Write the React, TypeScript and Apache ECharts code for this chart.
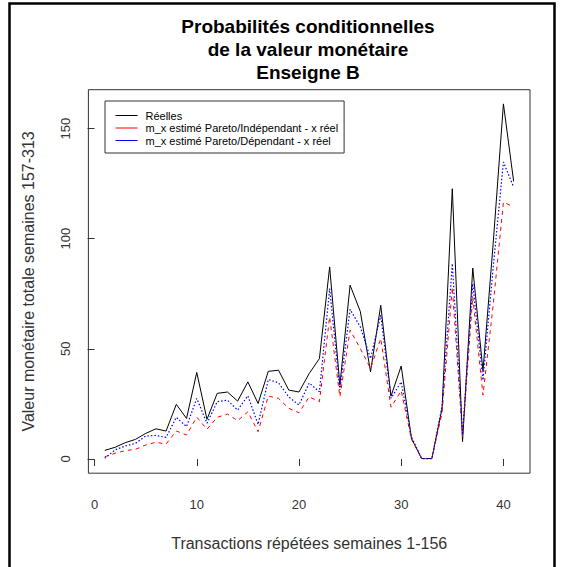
import React, { useEffect, useRef } from "react";
import * as echarts from "echarts";

const transactions = [
  1, 2, 3, 4, 5, 6, 7, 8, 9, 10, 11, 12, 13, 14, 15, 16, 17, 18, 19, 20, 21,
  22, 23, 24, 25, 26, 27, 28, 29, 30, 31, 32, 33, 34, 35, 36, 37, 38, 39, 40, 41,
];

const reelles = [
  3.9, 5.3, 7.4, 8.9, 11.6, 13.7, 12.7, 24.8, 18.4, 39.3, 18.0, 29.8, 30.4, 26.3,
  35.0, 25.2, 39.8, 40.3, 31.3, 30.4, 38.8, 45.6, 87.2, 33.5, 78.9, 67.0, 39.6,
  69.8, 28.5, 42.2, 9.4, 0.2, 0.2, 23.0, 122.7, 7.9, 86.7, 40.0, 98.0, 161.2, 126.0,
];

const paretoIndependant = [
  1.0, 2.6, 3.8, 4.4, 6.3, 7.6, 6.8, 12.7, 10.9, 19.0, 13.5, 18.9, 20.4, 17.4,
  21.4, 12.4, 28.6, 27.5, 23.0, 21.0, 28.2, 26.0, 64.5, 28.2, 58.5, 50.2, 41.1,
  54.7, 23.5, 31.0, 9.0, 0.2, 0.2, 21.0, 78.0, 10.0, 73.6, 29.0, 70.0, 116.6, 114.4,
];

const paretoDependant = [
  0.3, 4.1, 5.9, 7.1, 10.4, 10.7, 9.8, 18.9, 14.7, 27.5, 16.2, 26.0, 26.7, 22.2,
  28.7, 15.7, 36.1, 34.6, 28.2, 24.5, 34.5, 30.5, 77.4, 31.3, 67.9, 60.0, 45.6,
  65.3, 27.6, 35.0, 10.0, 0.2, 0.2, 24.0, 88.7, 11.0, 79.6, 35.8, 87.0, 134.8, 123.4,
];

const xTicks = [0, 10, 20, 30, 40];
const yTicks = [0, 50, 100, 150];

const titleLines = [
  "Probabilités conditionnelles",
  "de la valeur monétaire",
  "Enseigne B",
];

const seriesNames = [
  "Réelles",
  "m_x estimé Pareto/Indépendant - x réel",
  "m_x estimé Pareto/Dépendant - x réel",
];

const xTitle = "Transactions répétées semaines 1-156";
const yTitle = "Valeur monétaire totale semaines 157-313";

const FONT = "'Liberation Sans', Arial, Helvetica, sans-serif";

export default function App() {
  const ref = useRef<HTMLDivElement>(null);

  useEffect(() => {
    if (!ref.current) return;
    const chart = echarts.init(ref.current, null, { renderer: "svg" });

    const pairs = (vals: number[]) => transactions.map((x, i) => [x, vals[i]]);

    const allVals = [...reelles, ...paretoIndependant, ...paretoDependant];
    const yMinData = Math.min(...allVals, 0);
    const yMaxData = Math.max(...allVals);
    const yPad = (yMaxData - 0) * 0.04;
    const xMinData = transactions[0];
    const xMaxData = transactions[transactions.length - 1];
    const xPad = (xMaxData - xMinData) * 0.04;

    const axisColor = "#333";

    chart.setOption({
      animation: false,
      backgroundColor: "#ffffff",
      textStyle: { fontFamily: FONT },
      grid: {
        left: 88.4,
        right: 32,
        top: 89.7,
        bottom: 93.8,
        show: true,
        borderColor: axisColor,
        borderWidth: 1,
        backgroundColor: "transparent",
        outerBoundsMode: "none",
      },
      graphic: [
        {
          type: "rect",
          shape: { x: 9.5, y: 3.5, width: 545, height: 620 },
          style: { fill: "none", stroke: "#000", lineWidth: 2.5 },
          silent: true,
        },
        ...titleLines.map((t, i) => ({
          type: "text",
          x: 308,
          y: 26 + i * 23,
          style: {
            text: t,
            fontFamily: FONT,
            fontSize: 19,
            fontWeight: "bold",
            fill: "#000",
            textAlign: "center",
            textVerticalAlign: "middle",
          },
          silent: true,
        })),
      ],
      legend: {
        orient: "vertical",
        left: 105,
        top: 101,
        itemWidth: 22,
        itemHeight: 12,
        itemGap: 1.5,
        padding: [9, 6, 7, 10],
        borderColor: axisColor,
        borderWidth: 1,
        backgroundColor: "#fff",
        selectedMode: false,
        textStyle: {
          fontSize: 11,
          color: "#000",
          fontFamily: FONT,
          padding: [0, 0, 0, 3],
        },
        itemStyle: { opacity: 0 },
        lineStyle: { type: "solid", width: 1 },
        data: seriesNames,
      },
      xAxis: {
        type: "value",
        min: xMinData - xPad,
        max: xMaxData + xPad,
        name: xTitle,
        nameLocation: "middle",
        nameGap: 62,
        nameTextStyle: { fontSize: 16, color: axisColor, fontFamily: FONT },
        axisLine: { show: false },
        splitLine: { show: false },
        axisTick: {
          show: true,
          inside: false,
          length: 7,
          lineStyle: { color: axisColor, width: 1 },
          customValues: xTicks,
        },
        axisLabel: {
          show: true,
          margin: 25,
          fontSize: 13,
          color: axisColor,
          fontFamily: FONT,
          customValues: xTicks,
        },
      },
      yAxis: {
        type: "value",
        min: yMinData - yPad,
        max: yMaxData + yPad,
        name: yTitle,
        nameLocation: "middle",
        nameRotate: 90,
        nameGap: 52,
        nameTextStyle: { fontSize: 16, color: axisColor, fontFamily: FONT },
        axisLine: { show: false },
        splitLine: { show: false },
        axisTick: {
          show: true,
          inside: false,
          length: 7,
          lineStyle: { color: axisColor, width: 1 },
          customValues: yTicks,
        },
        axisLabel: {
          show: true,
          rotate: 90,
          margin: 16,
          fontSize: 13,
          color: axisColor,
          fontFamily: FONT,
          customValues: yTicks,
        },
      },
      series: [
        {
          name: seriesNames[0],
          type: "line",
          data: pairs(reelles),
          symbol: "none",
          showSymbol: false,
          silent: true,
          lineStyle: { color: "#000000", width: 1, type: "solid" },
          itemStyle: { color: "#000000" },
          z: 2,
        },
        {
          name: seriesNames[1],
          type: "line",
          data: pairs(paretoIndependant),
          symbol: "none",
          showSymbol: false,
          silent: true,
          lineStyle: { color: "#ff0000", width: 1, type: [4, 4] },
          itemStyle: { color: "#ff0000" },
          z: 3,
        },
        {
          name: seriesNames[2],
          type: "line",
          data: pairs(paretoDependant),
          symbol: "none",
          showSymbol: false,
          silent: true,
          lineStyle: { color: "#0000ff", width: 1.2, type: [1.5, 2] },
          itemStyle: { color: "#0000ff" },
          z: 4,
        },
      ],
    });

    return () => chart.dispose();
  }, []);

  return (
    <div
      ref={ref}
      style={{
        position: "absolute",
        left: 0,
        top: 0,
        width: 562,
        height: 567,
        background: "#fff",
      }}
    />
  );
}
